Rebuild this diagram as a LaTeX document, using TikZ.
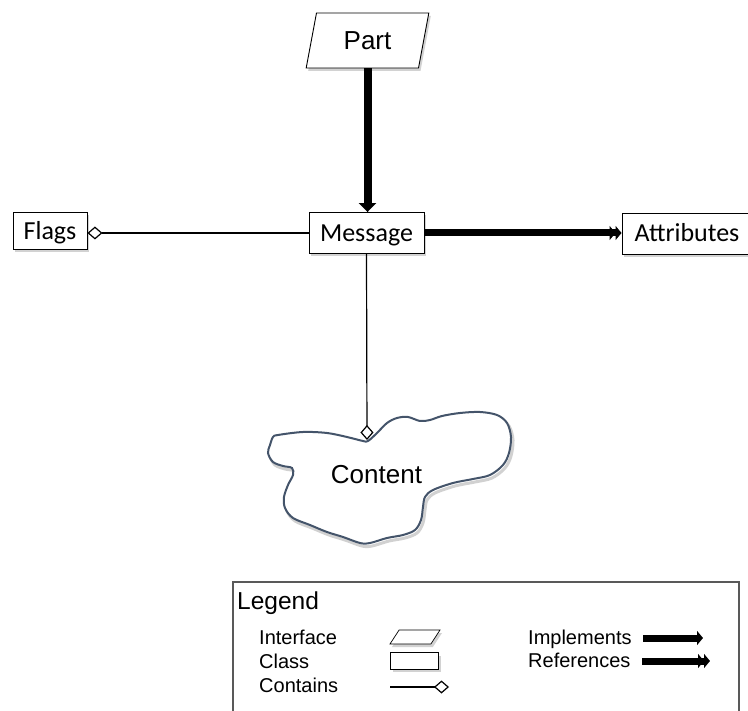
\documentclass[tikz,border=0pt]{standalone}
\usepackage{fontspec}
\setmainfont{Liberation Sans}
\newfontfamily\calibri{Carlito}
\usepackage{tikz}
\usetikzlibrary{arrows.meta,shapes.geometric,shadows}

\begin{document}
\begin{tikzpicture}[x=1pt, y=-1pt,
	boxshadow/.style={drop shadow={shadow xshift=2pt, shadow yshift=-3pt, opacity=0.25, fill=black!70}},
	classbox/.style={rectangle, draw, line width=0.9pt, fill=white, boxshadow, inner sep=0pt,
		text height=16.5pt, text depth=0pt, font=\calibri\fontsize{26}{30}\selectfont},
	interfacebox/.style={trapezium, trapezium left angle=76, trapezium right angle=104,
		trapezium stretches=true, draw, line width=0.9pt, fill=white, boxshadow, inner sep=1pt,
		font=\fontsize{26}{30}\selectfont},
	implements/.style={line width=8pt, -{Triangle[length=9pt,width=17pt]}},
	references/.style={line width=7pt, -{Triangle[length=6pt,width=14pt]Triangle[length=6pt,width=14pt]}},
	contains/.style={line width=1.2pt, -{Diamond[open,fill=white,length=15pt,width=13pt]}},
	legitem/.style={anchor=base west, inner sep=0pt, font=\fontsize{20}{23}\selectfont},
	cloudline/.style={draw=cloudcol, line width=2pt}]
	\definecolor{cloudcol}{HTML}{44546A}
	\useasboundingbox (0,0) rectangle (748,711);
	% classes and interface
	\node (part) at (367.5, 40.5) [interfacebox, minimum width=123pt, minimum height=55pt] {Part};
	\node (flags) at (50, 231) [classbox, minimum width=74pt, minimum height=37pt] {Flags};
	\node (message) at (366.5, 233) [classbox, minimum width=115pt, minimum height=41pt] {Message};
	\node (attributes) at (687, 233.5) [classbox, minimum width=130pt, minimum height=41pt] {Attributes};
	% content cloud
	\draw[draw=black!18, line width=3pt, shift={(2pt,-3pt)}] plot[smooth cycle, tension=0.55] coordinates {
		(273,437) (278,435) (303,432) (327,433) (347,437) (363,441) (368,441) (377,433)
		(387,423) (397,418) (408,417) (420,421) (430,420) (442,416) (460,413) (480,412)
		(497,415) (507,423) (511,437) (509,453) (503,465) (490,475) (473,479) (453,483)
		(433,490) (425,497) (423,507) (421,520) (415,530) (403,535) (387,538) (370,543)
		(360,543) (343,537) (327,532) (310,525) (293,518) (285,508) (284,497) (288,485)
		(293,475) (292,468) (283,466) (273,462) (268,453) (270,445)};
	\draw[cloudline, fill=white] plot[smooth cycle, tension=0.55] coordinates {
		(273,437) (278,435) (303,432) (327,433) (347,437) (363,441) (368,441) (377,433)
		(387,423) (397,418) (408,417) (420,421) (430,420) (442,416) (460,413) (480,412)
		(497,415) (507,423) (511,437) (509,453) (503,465) (490,475) (473,479) (453,483)
		(433,490) (425,497) (423,507) (421,520) (415,530) (403,535) (387,538) (370,543)
		(360,543) (343,537) (327,532) (310,525) (293,518) (285,508) (284,497) (288,485)
		(293,475) (292,468) (283,466) (273,462) (268,453) (270,445)};
	\node (content) at (376.5, 475) [font=\fontsize{26}{30}\selectfont] {Content};
	\coordinate (contentTop) at (367, 440);
	% connectors
	\draw[implements] (part.south) -- (part.south |- message.north);
	\draw[references] (message.east) -- (message.east -| attributes.west);
	\draw[contains] (message.west) -- (message.west -| flags.east);
	\draw[contains] (message.south) -- (contentTop);
	% legend
	\draw[line width=1.3pt, draw=black!65] (233,715) -- (233,582) -- (739,582) -- (739,715);
	\node (legend) at (237, 609) [anchor=base west, inner sep=0pt, font=\fontsize{24.5}{28}\selectfont] {Legend};
	\node (legInterfaceText) at (259, 644) [legitem] {Interface};
	\node (legClassText) at (259, 668) [legitem] {Class};
	\node (legContainsText) at (259, 692) [legitem] {Contains};
	\node (legInterface) at (415, 637) [interfacebox, trapezium left angle=74, trapezium right angle=106,
		minimum width=50pt, minimum height=14pt, line width=0.7pt] {};
	\node (legClass) at (414.5, 661) [classbox, minimum width=48pt, minimum height=16pt, line width=0.7pt] {};
	\coordinate (legContainsA) at (390, 687);
	\coordinate (legContainsB) at (449, 687);
	\draw[contains] (legContainsA) -- (legContainsB);
	\node (legImplementsText) at (528, 644) [legitem] {Implements};
	\node (legReferencesText) at (528, 667) [legitem] {References};
	\coordinate (legImplementsA) at (643, 638);
	\coordinate (legImplementsB) at (703, 638);
	\coordinate (legReferencesA) at (642, 661);
	\coordinate (legReferencesB) at (710, 661);
	\draw[line width=7pt, -{Triangle[length=6pt,width=14pt]}] (legImplementsA) -- (legImplementsB);
	\draw[references] (legReferencesA) -- (legReferencesB);
\end{tikzpicture}
\end{document}
